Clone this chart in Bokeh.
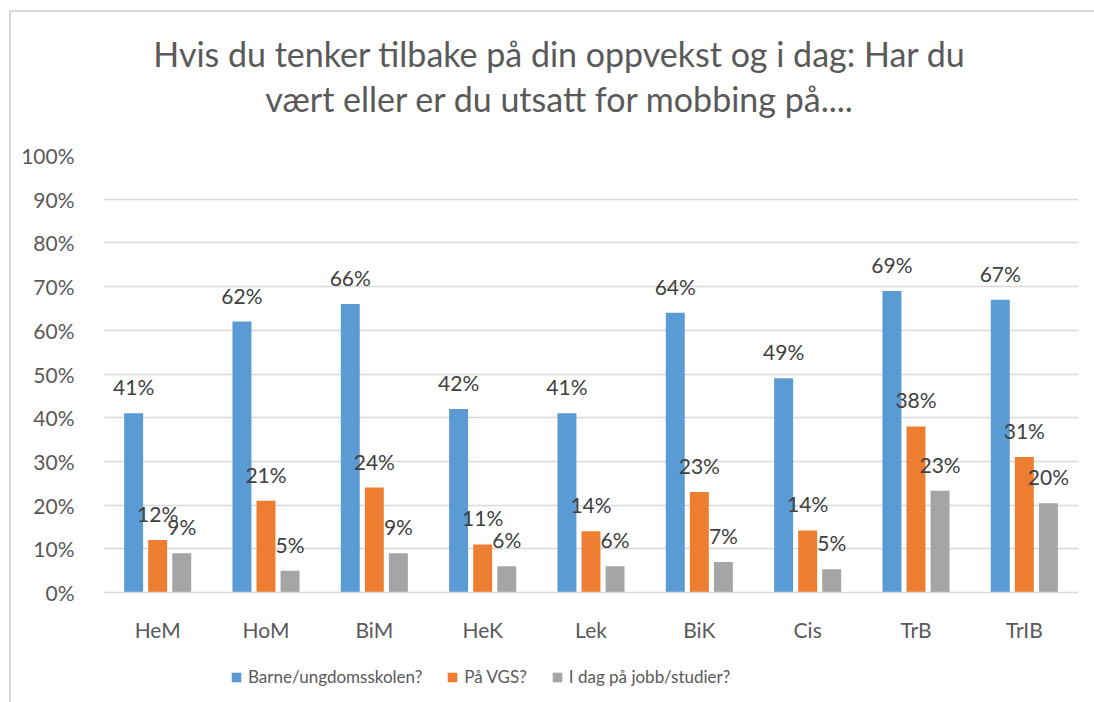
from bokeh.plotting import figure
from bokeh.layouts import column
from bokeh.models import (ColumnDataSource, FactorRange, LabelSet, Legend, LegendItem,
                          NumeralTickFormatter, FixedTicker, Range1d, Div)
from bokeh.core.properties import value
from bokeh.transform import dodge
from bokeh.embed import file_html
from bokeh.resources import INLINE

categories = ["HeM", "HoM", "BiM", "HeK", "Lek", "BiK", "Cis", "TrB", "TrIB"]
series_names = ["Barne/ungdomsskolen?", "På VGS?", "I dag på jobb/studier?"]
barne = [41, 62, 66, 42, 41, 64, 49, 69, 67]
vgs = [12, 21, 24, 11, 14, 23, 14.2, 38, 31]
idag = [9, 5, 9, 6, 6, 7, 5.3, 23.3, 20.4]
colors = ["#5B9BD5", "#ED7D31", "#A5A5A5"]
title_lines = ["Hvis du tenker tilbake på din oppvekst og i dag: Har du",
               "vært eller er du utsatt for mobbing på...."]
y_ticks = [0, 0.1, 0.2, 0.3, 0.4, 0.5, 0.6, 0.7, 0.8, 0.9, 1.0]

FONT = "Lato"
TXT = "#595959"

data = dict(cats=categories)
for key, vals in (("b", barne), ("v", vgs), ("d", idag)):
    data[key] = [v / 100 for v in vals]
    data[key + "_lbl"] = [f"{round(v)}%" for v in vals]
src = ColumnDataSource(data)

# title block (with chart-area border lines)
title_html = (
    '<div style="position:absolute;left:9px;top:10px;width:1200px;height:760px;'
    'border-left:2px solid #D9D9D9;border-top:2px solid #D9D9D9;pointer-events:none"></div>'
    f'<div style="width:1054px;text-align:center;font-family:{FONT};font-size:34px;'
    f'line-height:45px;color:{TXT};padding-top:31px;margin-left:32px">'
    f'{title_lines[0]}<br>{title_lines[1]}</div>'
)
title_div = Div(text=title_html, width=1086, height=140, margin=0,
                styles={"overflow": "visible"})

p = figure(x_range=FactorRange(factors=categories, range_padding=0),
           y_range=Range1d(0, 1),
           width=1086, height=508, output_backend="svg", toolbar_location=None,
           min_border_left=103, min_border_right=8, min_border_top=15, min_border_bottom=56)
p.outline_line_color = None
p.border_fill_color = None

offsets = [-0.222, 0.0, 0.222]
keys = ["b", "v", "d"]
for key, off, col in zip(keys, offsets, colors):
    p.vbar(x=dodge("cats", off, range=p.x_range), top=key, width=0.175,
           source=src, color=col, line_color=None)
    lbl = LabelSet(x=dodge("cats", off, range=p.x_range), y=key, text=key + "_lbl",
                   source=src, text_align="center", text_baseline="alphabetic",
                   y_offset=18, text_font=value(FONT), text_font_size=value("21px"),
                   text_color=value("#404040"))
    p.add_layout(lbl)

p.title.visible = False

p.yaxis.ticker = FixedTicker(ticks=y_ticks)
p.yaxis.formatter = NumeralTickFormatter(format="0%")
p.yaxis.axis_line_color = None
p.yaxis.major_tick_line_color = None
p.yaxis.minor_tick_line_color = None
p.yaxis.major_label_standoff = 23
p.yaxis.major_label_text_font = FONT
p.yaxis.major_label_text_font_size = "21px"
p.yaxis.major_label_text_color = TXT

p.xaxis.axis_line_color = "#D9D9D9"
p.xaxis.axis_line_width = 1.5
p.xaxis.major_tick_line_color = None
p.xaxis.minor_tick_line_color = None
p.xaxis.major_label_standoff = 18
p.xaxis.major_label_text_font = FONT
p.xaxis.major_label_text_font_size = "21px"
p.xaxis.major_label_text_color = TXT

p.xgrid.grid_line_color = None
p.ygrid.grid_line_color = "#D9D9D9"
p.ygrid.grid_line_width = 1.5

# legend strip: zero-width copies of the series, only their legend swatches show
pl = figure(width=1086, height=50, output_backend="svg", toolbar_location=None,
            min_border_left=0, min_border_right=0, min_border_top=0, min_border_bottom=0,
            x_range=p.x_range, y_range=Range1d(-2, -1))
pl.axis.visible = False
pl.grid.visible = False
pl.outline_line_color = None
pl.border_fill_color = None
pl.background_fill_color = None
items = []
for key, col, name in zip(keys, colors, series_names):
    r = pl.vbar(x="cats", top=key, bottom=key, width=0, source=src,
                fill_color=col, line_color=None)
    items.append(LegendItem(label=name, renderers=[r]))
legend = Legend(items=items, orientation="horizontal", location=(127, 11),
                glyph_width=12, glyph_height=12, label_standoff=6, spacing=24,
                margin=0, padding=0, border_line_color=None, background_fill_alpha=0,
                label_text_font=FONT, label_text_font_size="17px", label_text_color=TXT)
pl.add_layout(legend, "center")

layout = column(title_div, p, pl, spacing=0)
open("out.html", "w").write(file_html(layout, INLINE))
